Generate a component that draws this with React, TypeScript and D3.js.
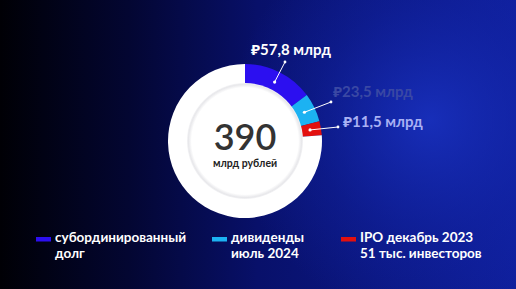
import React from "react";
import * as d3 from "d3";

const categories = [
  ["субординированный", "долг"],
  ["дивиденды", "июль 2024"],
  ["IPO декабрь 2023", "51 тыс. инвесторов"],
];
const values = [57.8, 23.5, 11.5];
const total = 390;
const valueLabels = ["₽57,8 млрд", "₽23,5 млрд", "₽11,5 млрд"];
const centerValue = "390";
const centerUnit = "млрд рублей";

const colors = ["#2c0ff0", "#1cb2f2", "#e3100f"];
const labelColors = ["#ffffff", "#3a48a4", "#a9b1f3"];

const W = 516;
const H = 289;
const cx = 245;
const cy = 141;
const rOuter = 77;
const rInner = 57;

export default function App() {
  const rest = total - d3.sum(values);
  const pieData = d3
    .pie<number>()
    .sort(null)
    .value((d) => d)
    .startAngle(0)
    .endAngle(2 * Math.PI)([...values, rest]);
  const arc = d3.arc<d3.PieArcDatum<number>>().innerRadius(rInner).outerRadius(rOuter);
  const midArc = d3.arc<d3.PieArcDatum<number>>().innerRadius(62).outerRadius(70);

  const labelLayout = [
    { end: [285, 62], tx: 291, ty: 55, anchor: "middle" },
    { end: [331, 102], tx: 333, ty: 97, anchor: "start" },
    { end: [338, 127], tx: 343, ty: 127, anchor: "start" },
  ];
  const legendX = [36, 212, 341];
  const font = "Lato, 'Noto Sans', sans-serif";

  return (
    <svg
      width={W}
      height={H}
      style={{ position: "absolute", left: 0, top: 0, display: "block" }}
      fontFamily={font}
    >
      <defs>
        <linearGradient id="bg" x1="0" y1="0" x2="1" y2="0">
          <stop offset="0" stopColor="#000005" />
          <stop offset="0.25" stopColor="#030632" />
          <stop offset="0.5" stopColor="#08106a" />
          <stop offset="1" stopColor="#0f1f9c" />
        </linearGradient>
        <radialGradient id="glow" cx="430" cy="120" r="200" gradientUnits="userSpaceOnUse">
          <stop offset="0" stopColor="#1a33c4" stopOpacity="0.8" />
          <stop offset="0.6" stopColor="#1428b0" stopOpacity="0.3" />
          <stop offset="1" stopColor="#1428b0" stopOpacity="0" />
        </radialGradient>
        <radialGradient id="inner" cx="0" cy="0" r={rInner + 1} gradientUnits="userSpaceOnUse">
          <stop offset="0" stopColor="#ffffff" />
          <stop offset="0.92" stopColor="#ffffff" />
          <stop offset="0.975" stopColor="#e8e8eb" />
          <stop offset="1" stopColor="#f3f3f5" />
        </radialGradient>
      </defs>
      <rect width={W} height={H} fill="url(#bg)" />
      <rect width={W} height={H} fill="url(#glow)" />

      <g transform={`translate(${cx},${cy})`}>
        {pieData.map((d, i) => (
          <path key={i} d={arc(d) || ""} fill={i < values.length ? colors[i] : "#ffffff"} />
        ))}
        <circle r={rInner + 1} fill="url(#inner)" />
      </g>

      {pieData.slice(0, values.length).map((d, i) => {
        const [mx, my] = midArc.centroid(d);
        const L = labelLayout[i];
        return (
          <g key={i}>
            <line x1={cx + mx} y1={cy + my} x2={L.end[0]} y2={L.end[1]} stroke="#ffffff" strokeWidth={1} />
            <circle cx={cx + mx} cy={cy + my} r={1.6} fill="#ffffff" />
            <circle cx={L.end[0]} cy={L.end[1]} r={1.4} fill="#ffffff" />
            <text
              x={L.tx}
              y={L.ty}
              textAnchor={L.anchor}
              fill={labelColors[i]}
              fontSize={15}
              fontWeight={700}
            >
              {valueLabels[i]}
            </text>
          </g>
        );
      })}

      <text x={cx} y={150} textAnchor="middle" fill="#333333" fontSize={36} fontWeight={600}>
        {centerValue}
      </text>
      <text x={cx} y={167} textAnchor="middle" fill="#222222" fontSize={10.5} fontWeight={700}>
        {centerUnit}
      </text>

      {categories.map((lines, i) => (
        <g key={i}>
          <rect x={legendX[i]} y={237} width={15} height={4.5} fill={colors[i]} />
          {lines.map((ln, j) => (
            <text
              key={j}
              x={legendX[i] + 19}
              y={242 + j * 15.5}
              fill="#ffffff"
              fontSize={13.5}
              fontWeight={700}
            >
              {ln}
            </text>
          ))}
        </g>
      ))}
    </svg>
  );
}
